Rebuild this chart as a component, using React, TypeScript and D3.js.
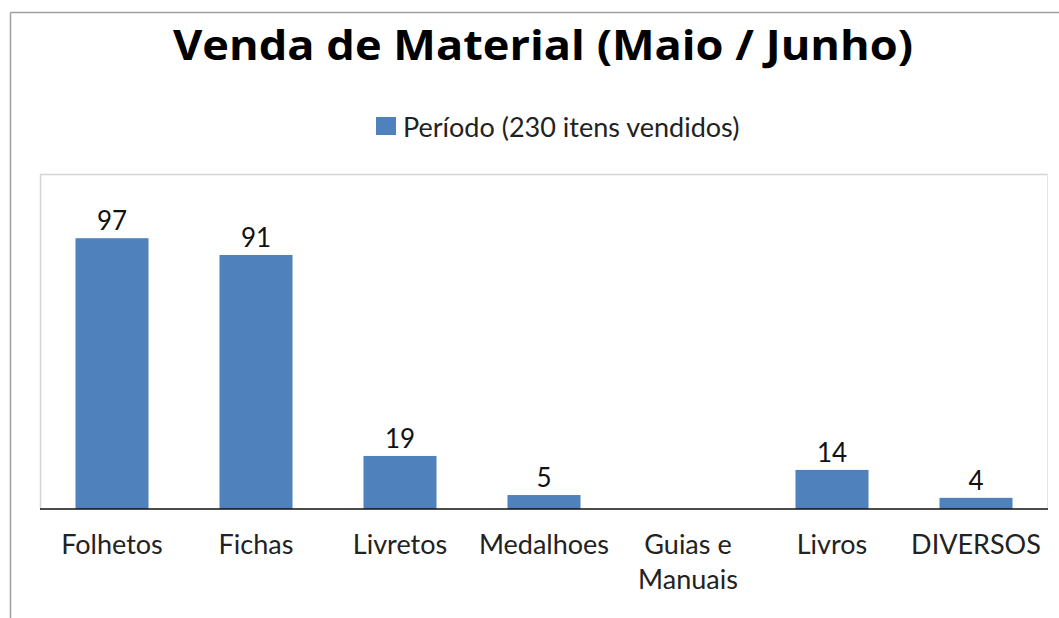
import React from "react";
import * as d3 from "d3";

const categories: string[] = ["Folhetos", "Fichas", "Livretos", "Medalhoes", "Guias e Manuais", "Livros", "DIVERSOS"];
const categoryLines: string[][] = [["Folhetos"], ["Fichas"], ["Livretos"], ["Medalhoes"], ["Guias e", "Manuais"], ["Livros"], ["DIVERSOS"]];
const values: (number | null)[] = [97, 91, 19, 5, null, 14, 4];
const seriesName = "Período (230 itens vendidos)";
const title = "Venda de Material (Maio / Junho)";
const yMax = 120;

const W = 1059;
const H = 618;
const BAR = "#4F81BD";
const FONT = "Lato, 'Open Sans', sans-serif";

export default function App() {
  const plotLeft = 40;
  const plotRight = 1048;
  const plotTop = 174;
  const plotBottom = 509;

  const gap = 0.493;
  const x = d3
    .scaleBand<string>()
    .domain(categories)
    .range([plotLeft, plotRight])
    .paddingInner(gap)
    .paddingOuter(gap / 2);
  const y = d3.scaleLinear().domain([0, yMax]).range([plotBottom, plotTop]);

  return (
    <svg
      width={W}
      height={H}
      style={{ position: "absolute", left: 0, top: 0, background: "#fff" }}
      fontFamily={FONT}
    >
      {/* outer chart frame */}
      <line x1={10.5} y1={12.5} x2={W} y2={12.5} stroke="#a0a0a0" strokeWidth={1.5} />
      <line x1={10.5} y1={12.5} x2={10.5} y2={H} stroke="#a0a0a0" strokeWidth={1.5} />

      {/* title */}
      <text
        x={173}
        y={60}
        fontSize={41}
        fontWeight="bold"
        fontFamily="'Open Sans', Lato, sans-serif"
        fill="#000"
        textLength={740}
        lengthAdjust="spacingAndGlyphs"
      >
        {title}
      </text>

      {/* legend */}
      <rect x={376} y={117} width={20} height={18} fill={BAR} />
      <text x={403} y={137} fontSize={27} fill="#222">
        {seriesName}
      </text>

      {/* plot area border */}
      <line x1={plotLeft} y1={plotTop + 0.5} x2={plotRight} y2={plotTop + 0.5} stroke="#d4d4d4" strokeWidth={1.5} />
      <line x1={plotLeft + 0.5} y1={plotTop} x2={plotLeft + 0.5} y2={plotBottom} stroke="#d4d4d4" strokeWidth={1.5} />
      <line x1={plotRight - 0.5} y1={plotTop} x2={plotRight - 0.5} y2={plotBottom} stroke="#e4e4e4" strokeWidth={1} />

      {/* bars */}
      {categories.map((c, i) => {
        const v = values[i];
        if (v == null) return null;
        const bx = x(c)!;
        return (
          <g key={c}>
            <rect x={bx} y={y(v)} width={x.bandwidth()} height={y(0) - y(v)} fill={BAR} />
            <text
              x={bx + x.bandwidth() / 2}
              y={y(v) - 8}
              textAnchor="middle"
              fontSize={26}
              fill="#111"
            >
              {v}
            </text>
          </g>
        );
      })}

      {/* baseline */}
      <line x1={plotLeft} y1={plotBottom} x2={plotRight} y2={plotBottom} stroke="#111" strokeWidth={1.6} />

      {/* category labels */}
      {categories.map((c, i) => (
        <text
          key={c}
          x={x(c)! + x.bandwidth() / 2}
          y={554}
          textAnchor="middle"
          fontSize={27}
          fill="#222"
        >
          {categoryLines[i].map((ln, j) => (
            <tspan key={j} x={x(c)! + x.bandwidth() / 2} dy={j === 0 ? 0 : 35}>
              {ln}
            </tspan>
          ))}
        </text>
      ))}
    </svg>
  );
}
